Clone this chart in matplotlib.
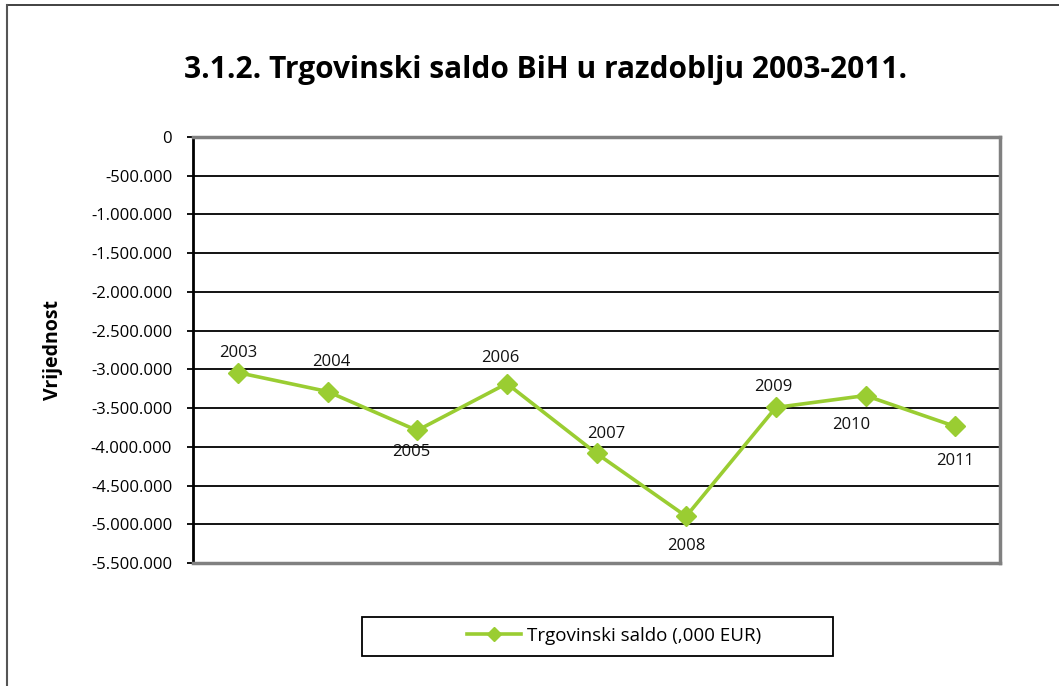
import numpy as np
import matplotlib
matplotlib.use("Agg")
import matplotlib.pyplot as plt
from matplotlib.ticker import FuncFormatter, MultipleLocator
from matplotlib.lines import Line2D
from matplotlib.patches import Rectangle

plt.rcParams["font.family"] = ["Open Sans", "DejaVu Sans"]

years = ["2003", "2004", "2005", "2006", "2007", "2008", "2009", "2010", "2011"]
saldo = [-3041000, -3286000, -3789000, -3183000, -4085000, -4897000, -3492000, -3338000, -3737000]

# label offsets in pixels (dx, dy), as Excel placed them
label_off = [(0, 20), (4, 30), (-6, -22), (-7, 26), (10, 19), (0, -30), (-3, 20), (-14, -29), (0, -35)]

green = "#9ACD32"

fig = plt.figure(figsize=(10.59, 6.86), dpi=100)
ax = fig.add_axes([193 / 1059, 1 - 563 / 686, (1000 - 193) / 1059, (563 - 137) / 686])

x = np.arange(len(years))
ax.plot(x, saldo, color=green, lw=2.6, marker="D", ms=10, zorder=3)

for xi, v, yr, (dx, dy) in zip(x, saldo, years, label_off):
    ax.annotate(yr, (xi, v), xytext=(dx * 0.72, dy * 0.72), textcoords="offset points",
                ha="center", va="center", fontsize=12, color="#111111")

ax.set_xlim(-0.5, len(years) - 0.5)
ax.set_ylim(-5500000, 0)
ax.yaxis.set_major_locator(MultipleLocator(500000))
ax.yaxis.set_major_formatter(FuncFormatter(lambda v, p: f"{int(v):,}".replace(",", ".")))
ax.set_xticks([])
ax.grid(axis="y", color="black", lw=1.3)
ax.set_axisbelow(True)
ax.tick_params(axis="y", length=4, width=1.3, labelsize=12, pad=11, colors="black")

for s in ["top", "right", "bottom"]:
    ax.spines[s].set_color("#808080")
    ax.spines[s].set_linewidth(2.5)
ax.spines["left"].set_color("black")
ax.spines["left"].set_linewidth(2)

ax.set_ylabel("Vrijednost", fontsize=14, fontweight="bold", labelpad=20)

fig.text(546 / 1059, 1 - 70 / 686, "3.1.2. Trgovinski saldo BiH u razdoblju 2003-2011.",
         ha="center", va="center", fontsize=21.5, fontweight="bold")

# legend box drawn as in the original (wide frame)
fig.add_artist(Rectangle((362 / 1059, 1 - 656 / 686), (833 - 362) / 1059, 39 / 686,
                         transform=fig.transFigure, fill=False, edgecolor="black", lw=1.3))
fig.legend(handles=[Line2D([], [], color=green, lw=2.6, marker="D", ms=7)],
           labels=["Trgovinski saldo (,000 EUR)"],
           loc="center", bbox_to_anchor=(614 / 1059, 1 - 636 / 686),
           fontsize=13.5, frameon=False, handlelength=2.9, handletextpad=0.3)

# outer frame (top and left edges)
fig.add_artist(Line2D([7 / 1059, 1], [1 - 5 / 686] * 2, transform=fig.transFigure, color="#333333", lw=1.3))
fig.add_artist(Line2D([7 / 1059] * 2, [0, 1 - 5 / 686], transform=fig.transFigure, color="#555555", lw=1.5))

fig.savefig("out.png", dpi=100)
